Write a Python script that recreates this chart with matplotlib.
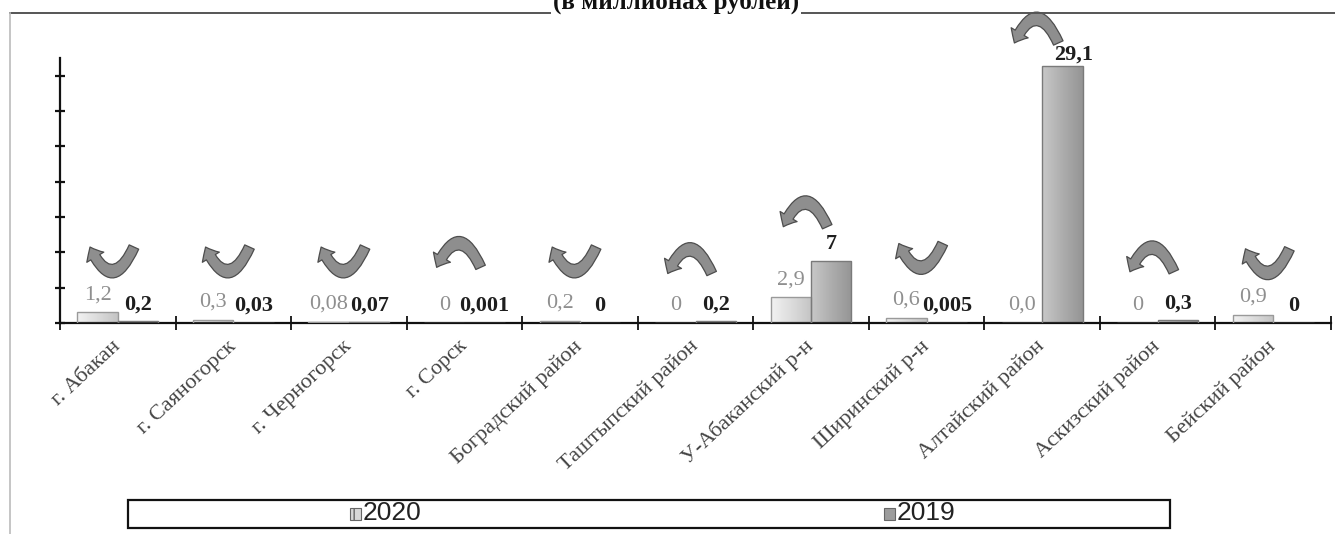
import matplotlib
matplotlib.use("Agg")
import matplotlib.pyplot as plt
import numpy as np
from matplotlib.patches import FancyArrowPatch, Rectangle
from matplotlib.lines import Line2D
from matplotlib.colors import LinearSegmentedColormap

# ---------------- data ----------------
categories = ["г. Абакан", "г. Саяногорск", "г. Черногорск", "г. Сорск",
              "Боградский район", "Таштыпский район", "У-Абаканский р-н",
              "Ширинский р-н", "Алтайский район", "Аскизский район", "Бейский район"]
series_names = ["2020", "2019"]
values_2020 = [1.2, 0.3, 0.08, 0, 0.2, 0, 2.9, 0.6, 0.0, 0, 0.9]
values_2019 = [0.2, 0.03, 0.07, 0.001, 0, 0.2, 7, 0.005, 29.1, 0.3, 0]
labels_2020 = ["1,2", "0,3", "0,08", "0", "0,2", "0", "2,9", "0,6", "0,0", "0", "0,9"]
labels_2019 = ["0,2", "0,03", "0,07", "0,001", "0", "0,2", "7", "0,005", "29,1", "0,3", "0"]
title = "(в миллионах рублей)"

# decorative arrow levels (data units)
arrow_level = [8.6, 8.6, 8.6, 6.3, 8.6, 5.6, 10.9, 9.0, 31.7, 5.8, 8.4]

W, H = 1335, 534
fig = plt.figure(figsize=(W / 100, H / 100), dpi=100)
fig.patch.set_facecolor("white")

ax = fig.add_axes([60 / W, (H - 323) / H, (1331 - 60) / W, (323 - 58) / H])
ax.set_facecolor("none")

x = np.arange(len(categories))
bw = 0.35

cmap20 = LinearSegmentedColormap.from_list("c20", ["#f2f2f2", "#dcdcdc", "#c4c4c4"])
cmap19 = LinearSegmentedColormap.from_list("c19", ["#c8c8c8", "#adadad", "#959595"])

bars20 = ax.bar(x - bw / 2, values_2020, bw, facecolor="none", edgecolor="#9a9a9a",
                linewidth=1.0, zorder=3)
bars19 = ax.bar(x + bw / 2, values_2019, bw, facecolor="none", edgecolor="#7a7a7a",
                linewidth=1.0, zorder=3)

grad = np.linspace(0, 1, 64).reshape(1, -1)
for bars, cm in ((bars20, cmap20), (bars19, cmap19)):
    for b in bars:
        h = b.get_height()
        if h <= 0:
            continue
        x0 = b.get_x()
        im = ax.imshow(grad, extent=[x0, x0 + b.get_width(), 0, h], cmap=cm,
                       aspect="auto", zorder=2.5, interpolation="bilinear")
        im.set_clip_path(b)

ax.set_xlim(-0.5, len(categories) - 0.5)
ax.set_ylim(0, 30)

# value labels
for xi, v, s in zip(x - bw / 2, values_2020, labels_2020):
    ax.annotate(s, (xi, v), xytext=(0, 6), textcoords="offset points", ha="center",
                va="bottom", fontsize=16, color="#8f8f8f", family="Liberation Serif",
                zorder=2)
for xi, v, s in zip(x + bw / 2, values_2019, labels_2019):
    off = (8, 1) if v > 20 else (0, 5)
    ax.annotate(s, (xi, v), xytext=off, textcoords="offset points", ha="center",
                va="bottom", fontsize=16, color="#1e1e1e", fontweight="bold",
                family="Liberation Serif", zorder=4)

# curved arrows
for i in range(len(categories)):
    cx = x[i] - 0.05
    hw = 0.19
    down = values_2020[i] > values_2019[i]
    rad = -1.1 if down else 1.1
    arr = FancyArrowPatch((cx + hw, arrow_level[i]), (cx - hw, arrow_level[i]),
                          connectionstyle=f"arc3,rad={rad}",
                          arrowstyle="simple,head_length=0.55,head_width=0.95,tail_width=0.5",
                          mutation_scale=15, shrinkA=0, shrinkB=0,
                          facecolor="#8e8e8e", edgecolor="#4d4d4d", linewidth=0.9,
                          clip_on=False, zorder=5)
    ax.add_patch(arr)

# axes styling
for s in ("top", "right"):
    ax.spines[s].set_visible(False)
for s in ("left", "bottom"):
    ax.spines[s].set_linewidth(1.6)
    ax.spines[s].set_color("#111111")

ax.set_yticks(np.arange(0, 29, 4))
ax.tick_params(axis="y", direction="inout", length=7, width=1.6, labelleft=False,
               color="#111111")
ax.set_xticks(x)
ax.set_xticklabels(categories, rotation=43, ha="right", va="center",
                   rotation_mode="anchor", fontsize=16, color="#444444",
                   family="Liberation Serif")
ax.tick_params(axis="x", which="major", length=0, pad=15)
ax.set_xticks(np.arange(-0.5, len(categories), 1.0), minor=True)
ax.tick_params(axis="x", which="minor", direction="inout", length=10, width=1.3,
               color="#111111")

# title (partly cut at top)
fig.text(676 / W, 1 - 9 / H, title, ha="center", va="baseline", fontsize=18,
         fontweight="bold", family="Liberation Serif", color="#111111",
         bbox=dict(facecolor="white", edgecolor="none", pad=1), zorder=10)

# outer frame
fig.add_artist(Line2D([10 / W, 1.0], [1 - 13 / H, 1 - 13 / H], color="#555555",
                      linewidth=1.4, zorder=1))
fig.add_artist(Line2D([10 / W, 10 / W], [0, 1 - 13 / H], color="#bbbbbb",
                      linewidth=1.2, zorder=1))

# legend box
lx0, lx1, ly0, ly1 = 128, 1170, 500, 528
fig.add_artist(Rectangle((lx0 / W, (H - ly1) / H), (lx1 - lx0) / W, (ly1 - ly0) / H,
                         facecolor="white", edgecolor="#111111", linewidth=1.6,
                         transform=fig.transFigure))
half = (lx1 - lx0) / 2
swatch_colors = ["#d8d8d8", "#9c9c9c"]
swatch_x = [350, 884]
for k, name in enumerate(series_names):
    mx = swatch_x[k]
    fig.add_artist(Rectangle((mx / W, (H - 520) / H), 11 / W, 12 / H,
                             facecolor=swatch_colors[k], edgecolor="#666666",
                             linewidth=0.8, hatch="||" if k == 0 else None,
                             transform=fig.transFigure))
    fig.text((mx + 13) / W, (H - 513) / H, name, ha="left", va="center", fontsize=19,
             family="Liberation Sans", color="#222222")

fig.savefig("out.png", dpi=100)
